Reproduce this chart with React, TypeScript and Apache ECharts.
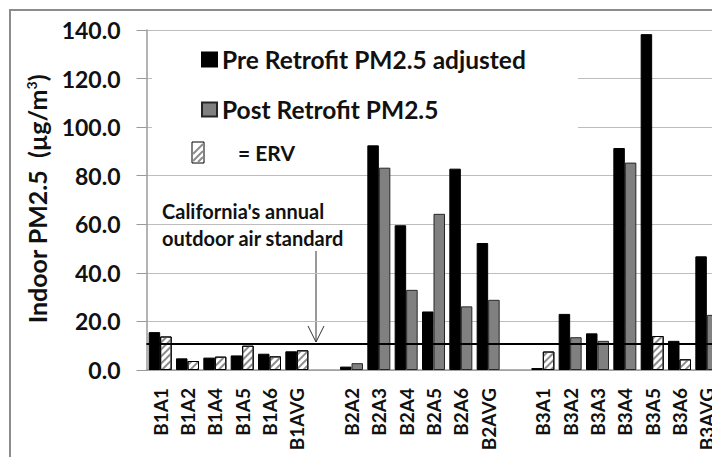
import React, { useEffect, useRef } from "react";
import * as echarts from "echarts";

const categories = ["B1A1", "B1A2", "B1A4", "B1A5", "B1A6", "B1AVG", "", "B2A2", "B2A3", "B2A4", "B2A5", "B2A6", "B2AVG", " ", "B3A1", "B3A2", "B3A3", "B3A4", "B3A5", "B3A6", "B3AVG"];
const preRetrofit = [15.6, 4.8, 5.1, 6.0, 6.7, 7.7, null, 1.4, 92.5, 59.6, 24.1, 82.9, 52.3, null, 0.8, 23.1, 15.1, 91.4, 138.3, 12.0, 46.8];
const postRetrofit = [13.8, 3.7, 5.5, 10.0, 5.6, 8.1, null, 2.8, 83.3, 33.0, 64.3, 26.2, 28.9, null, 7.6, 13.5, 12.0, 85.4, 14.0, 4.4, 22.7];
const ervFlags = [1, 1, 1, 1, 1, 1, 0, 0, 0, 0, 0, 0, 0, 0, 1, 0, 0, 0, 1, 1, 0];
const yTicks = { min: 0, max: 140, interval: 20 };
const standardValue = 11;
const seriesNames = ["Pre Retrofit PM2.5 adjusted", "Post Retrofit PM2.5"];

const FONT = "Lato";

export default function App() {
  const ref = useRef<HTMLDivElement>(null);
  useEffect(() => {
    if (!ref.current) return;
    const chart = echarts.init(ref.current, null, { renderer: "svg" });
    const hatch = {
      symbol: "rect",
      symbolSize: 1,
      color: "#8c8c8c",
      backgroundColor: "#ffffff",
      dashArrayX: [1, 0],
      dashArrayY: [2, 3],
      rotation: -Math.PI / 4,
    };
    const postData = postRetrofit.map((v, i) =>
      ervFlags[i]
        ? { value: v, itemStyle: { color: "#ffffff", borderColor: "#000", borderWidth: 1, decal: hatch } }
        : { value: v }
    );
    chart.setOption({
      animation: false,
      backgroundColor: "#ffffff",
      textStyle: { fontFamily: FONT },
      grid: { left: 146.5, top: 30, right: 9.5, bottom: 87, containLabel: false },
      legend: {
        data: seriesNames,
        orient: "vertical",
        left: 201,
        top: 47,
        padding: 0,
        itemWidth: 15,
        itemHeight: 14,
        itemGap: 25,
        icon: "rect",
        textStyle: { fontFamily: FONT, fontWeight: "bold", fontSize: 24.5, color: "#111", lineHeight: 24 },
      },
      xAxis: {
        type: "category",
        data: categories,
        axisLine: { lineStyle: { color: "#9a9a9a", width: 1.5 } },
        axisTick: { show: false },
        axisLabel: {
          interval: 0,
          rotate: 90,
          margin: 18,
          fontFamily: FONT,
          fontWeight: "bold",
          fontSize: 19,
          color: "#111",
        },
      },
      yAxis: {
        type: "value",
        min: yTicks.min,
        max: yTicks.max,
        interval: yTicks.interval,
        axisLine: { show: true, lineStyle: { color: "#9a9a9a", width: 1.5 } },
        axisTick: { show: true, length: 10, lineStyle: { color: "#9a9a9a" } },
        splitLine: { lineStyle: { color: "#bdbdbd", width: 1.2 } },
        axisLabel: {
          margin: 26,
          formatter: (v: number) => v.toFixed(1),
          fontFamily: FONT,
          fontWeight: "bold",
          fontSize: 23,
          color: "#111",
        },
      },
      series: [
        {
          name: seriesNames[0],
          type: "bar",
          data: preRetrofit,
          barWidth: 11.5,
          barGap: "0%",
          itemStyle: { color: "#000000", borderColor: "#000", borderWidth: 1 },
          markLine: {
            silent: true,
            symbol: "none",
            label: { show: false },
            lineStyle: { color: "#000", width: 2, type: "solid" },
            data: [{ yAxis: standardValue }],
          },
        },
        {
          name: seriesNames[1],
          type: "bar",
          data: postData,
          barWidth: 11.5,
          barGap: "0%",
          itemStyle: { color: "#808080", borderColor: "#262626", borderWidth: 1 },
        },
      ],
      graphic: [
        {
          type: "rect",
          z: 1,
          shape: { x: 152, y: 35, width: 426, height: 105 },
          style: { fill: "#ffffff" },
          silent: true,
        },
        {
          type: "rect",
          z: 5,
          shape: { x: 10, y: 10, width: 900, height: 700 },
          style: { fill: "none", stroke: "#8c8c8c", lineWidth: 2 },
          silent: true,
        },
        {
          type: "text",
          z: 5,
          x: 37,
          y: 199,
          rotation: Math.PI / 2,
          style: {
            text: "{a|Indoor PM2.5  (µg/m}{s|3}{a|)}",
            align: "center",
            verticalAlign: "middle",
            fill: "#111",
            rich: {
              a: { fontFamily: FONT, fontWeight: "bold", fontSize: 25, fill: "#111", lineHeight: 26 },
              s: { fontFamily: FONT, fontWeight: "bold", fontSize: 14, fill: "#111", verticalAlign: "top", lineHeight: 15 },
            },
          },
        },
        {
          type: "group",
          z: 5,
          children: [
            { type: "rect", shape: { x: 192, y: 142, width: 12, height: 21 }, style: { fill: "#fff", stroke: "#000", lineWidth: 1 } },
            { type: "line", shape: { x1: 193, y1: 154, x2: 203, y2: 144 }, style: { stroke: "#8c8c8c", lineWidth: 2 } },
            { type: "line", shape: { x1: 193, y1: 161, x2: 203, y2: 151 }, style: { stroke: "#8c8c8c", lineWidth: 2 } },
            { type: "line", shape: { x1: 198, y1: 162, x2: 203, y2: 157 }, style: { stroke: "#8c8c8c", lineWidth: 2 } },
          ],
        },
        {
          type: "text",
          z: 5,
          x: 238,
          y: 152,
          style: { text: "= ERV", fontFamily: FONT, fontWeight: "bold", fontSize: 21, fill: "#111", verticalAlign: "middle" },
        },
        {
          type: "text",
          z: 5,
          x: 162,
          y: 197,
          style: {
            text: "California's annual\noutdoor air standard",
            fontFamily: FONT,
            fontWeight: "bold",
            fontSize: 20,
            lineHeight: 27,
            fill: "#111",
          },
        },
        {
          type: "group",
          z: 5,
          children: [
            { type: "line", shape: { x1: 316, y1: 251, x2: 316, y2: 342 }, style: { stroke: "#333", lineWidth: 1 } },
            { type: "polyline", shape: { points: [[308, 326], [316, 342], [324, 326]] }, style: { stroke: "#333", lineWidth: 1, fill: "none" } },
          ],
        },
      ],
    });
    return () => chart.dispose();
  }, []);
  return (
    <div style={{ position: "fixed", left: 0, top: 0, width: 712, height: 457, overflow: "hidden", background: "#fff" }}>
      <div ref={ref} style={{ width: 730, height: 457 }} />
    </div>
  );
}
